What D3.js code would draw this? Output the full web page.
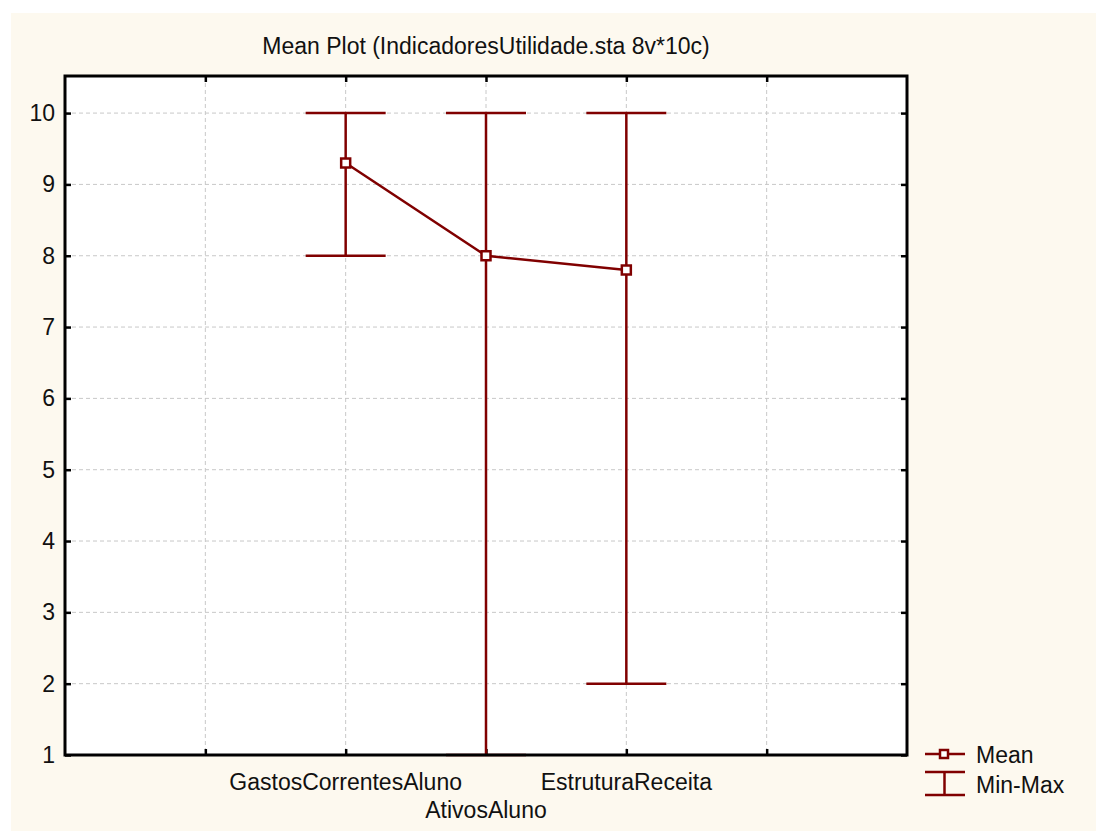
<!DOCTYPE html>
<meta charset="utf-8">
<script src="https://d3js.org/d3.v7.min.js"></script>
<style>
  body { margin: 0; background: #fff; font-family: "Liberation Sans", Arial, sans-serif; }
  .grid line { stroke: #c8c8c8; stroke-dasharray: 4,3; stroke-width: 1px; }
  .axis text { font-size: 23px; fill: #111; font-family: "Liberation Sans", Arial, sans-serif; }
</style>
<body>
<div id="chart"></div>
<script>
  var categories = ["GastosCorrentesAluno", "AtivosAluno", "EstruturaReceita"];
  var means = [9.3, 8.0, 7.8];
  var mins = [8, 1, 2];
  var maxs = [10, 10, 10];
  var yTicks = [1, 2, 3, 4, 5, 6, 7, 8, 9, 10];
  var title = "Mean Plot (IndicadoresUtilidade.sta 8v*10c)";
  var red = "#800000";

  var W = 1096, H = 831;
  var margin = {top: 76, right: 189, bottom: 76, left: 65},
      width = W - margin.left - margin.right,
      height = H - margin.top - margin.bottom;

  var svg = d3.select("#chart").append("svg")
    .attr("width", W).attr("height", H);

  svg.append("rect").attr("x", 11).attr("y", 13)
    .attr("width", W - 11).attr("height", H - 13)
    .attr("fill", "#fdf9ef");

  svg.append("text")
    .attr("x", margin.left + width / 2).attr("y", 54)
    .attr("text-anchor", "middle")
    .style("font-size", "23px").attr("fill", "#111")
    .text(title);

  var g = svg.append("g")
    .attr("transform", "translate(" + margin.left + "," + margin.top + ")");

  g.append("rect").attr("width", width).attr("height", height).attr("fill", "#fff");

  var x = d3.scaleLinear().domain([0, 6]).range([0, width]);
  var y = d3.scaleLinear().domain([1, 10.52]).range([height, 0]);
  var xTicks = [1, 2, 3, 4, 5];
  var pos = function(i) { return x(i + 2); };

  // grid
  g.append("g").attr("class", "grid")
    .selectAll("line.h").data(yTicks.slice(1)).enter().append("line")
      .attr("x1", 0).attr("x2", width)
      .attr("y1", function(d) { return y(d); }).attr("y2", function(d) { return y(d); });
  g.append("g").attr("class", "grid")
    .selectAll("line.v").data(xTicks).enter().append("line")
      .attr("y1", 0).attr("y2", height)
      .attr("x1", function(d) { return x(d); }).attr("x2", function(d) { return x(d); });

  // axes
  var yAxis = g.append("g").attr("class", "axis")
    .call(d3.axisLeft(y).tickValues(yTicks).tickSize(-6).tickPadding(10).tickFormat(d3.format("d")));
  yAxis.select(".domain").remove();
  yAxis.selectAll("line").attr("stroke", "#000").attr("stroke-width", 2.5);

  var yAxisR = g.append("g").attr("transform", "translate(" + width + ",0)")
    .call(d3.axisRight(y).tickValues(yTicks).tickSize(-6).tickFormat(""));
  yAxisR.select(".domain").remove();
  yAxisR.selectAll("line").attr("stroke", "#000").attr("stroke-width", 2.5);

  var xAxisB = g.append("g").attr("transform", "translate(0," + height + ")")
    .call(d3.axisBottom(x).tickValues(xTicks).tickSize(-6).tickFormat(""));
  xAxisB.select(".domain").remove();
  xAxisB.selectAll("line").attr("stroke", "#000").attr("stroke-width", 2.5);

  var xAxisT = g.append("g")
    .call(d3.axisTop(x).tickValues(xTicks).tickSize(-6).tickFormat(""));
  xAxisT.select(".domain").remove();
  xAxisT.selectAll("line").attr("stroke", "#000").attr("stroke-width", 2.5);

  // category labels (alternating rows)
  g.append("g").attr("class", "axis").selectAll("text").data(categories).enter().append("text")
    .attr("x", function(d, i) { return pos(i); })
    .attr("y", function(d, i) { return height + (i % 2 ? 63 : 35); })
    .attr("text-anchor", "middle")
    .text(function(d) { return d; });

  // min-max whiskers
  var whisk = g.append("g").attr("stroke", red).attr("stroke-width", 2.5).attr("fill", "none");
  categories.forEach(function(c, i) {
    whisk.append("line").attr("x1", pos(i)).attr("x2", pos(i))
      .attr("y1", y(mins[i])).attr("y2", y(maxs[i]));
    whisk.append("line").attr("x1", pos(i) - 40).attr("x2", pos(i) + 40)
      .attr("y1", y(mins[i])).attr("y2", y(mins[i]));
    whisk.append("line").attr("x1", pos(i) - 40).attr("x2", pos(i) + 40)
      .attr("y1", y(maxs[i])).attr("y2", y(maxs[i]));
  });

  // mean line + markers
  var line = d3.line().x(function(d, i) { return pos(i); }).y(function(d) { return y(d); });
  g.append("path").datum(means).attr("d", line)
    .attr("fill", "none").attr("stroke", red).attr("stroke-width", 2.5);
  g.selectAll("rect.mk").data(means).enter().append("rect")
    .attr("x", function(d, i) { return pos(i) - 4.5; })
    .attr("y", function(d) { return y(d) - 4.5; })
    .attr("width", 9).attr("height", 9)
    .attr("fill", "#fff").attr("stroke", red).attr("stroke-width", 2.5);

  // frame
  g.append("rect").attr("width", width).attr("height", height)
    .attr("fill", "none").attr("stroke", "#000").attr("stroke-width", 3);

  // legend
  var lg = svg.append("g").attr("stroke", red).attr("stroke-width", 2.5).attr("fill", "none");
  lg.append("line").attr("x1", 925).attr("x2", 965).attr("y1", 754).attr("y2", 754);
  lg.append("rect").attr("x", 940).attr("y", 750).attr("width", 8).attr("height", 8).attr("fill", "#fff");
  lg.append("line").attr("x1", 925).attr("x2", 965).attr("y1", 772).attr("y2", 772);
  lg.append("line").attr("x1", 925).attr("x2", 965).attr("y1", 795).attr("y2", 795);
  lg.append("line").attr("x1", 944.5).attr("x2", 944.5).attr("y1", 772).attr("y2", 795);
  svg.append("text").attr("x", 976).attr("y", 763).style("font-size", "23px").attr("fill", "#111").text("Mean");
  svg.append("text").attr("x", 976).attr("y", 793).style("font-size", "23px").attr("fill", "#111").text("Min-Max");
</script>
</body>
